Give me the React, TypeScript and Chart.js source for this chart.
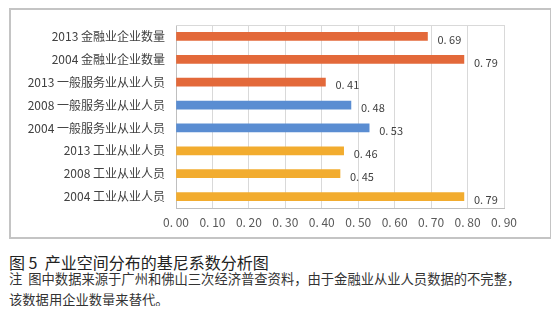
import React, { useEffect, useRef } from "react";
import { Chart, registerables } from "chart.js";

Chart.register(...registerables);

const categories = [
  "2013 金融业企业数量",
  "2004 金融业企业数量",
  "2013 一般服务业从业人员",
  "2008 一般服务业从业人员",
  "2004 一般服务业从业人员",
  "2013 工业从业人员",
  "2008 工业从业人员",
  "2004 工业从业人员",
];
const giniValues = [0.69, 0.79, 0.41, 0.48, 0.53, 0.46, 0.45, 0.79];
const barColors = [
  "#E3693A", "#E3693A", "#E3693A",
  "#5A8DD2", "#5A8DD2",
  "#F2AC2F", "#F2AC2F", "#F2AC2F",
];
const xTickValues = [0, 0.1, 0.2, 0.3, 0.4, 0.5, 0.6, 0.7, 0.8, 0.9];
const xTickLabels = ["0. 00", "0. 10", "0. 20", "0. 30", "0. 40", "0. 50", "0. 60", "0. 70", "0. 80", "0. 90"];

const FONT = '"Noto Sans CJK SC", "Noto Sans", sans-serif';

const fmt = (v: number) => v.toFixed(2).replace(".", ". ");

const labelPlugin = {
  id: "valueLabels",
  afterDatasetsDraw(chart: any) {
    const ctx = chart.ctx;
    const meta = chart.getDatasetMeta(0);
    ctx.save();
    ctx.font = `11px ${FONT}`;
    ctx.fillStyle = "#404040";
    ctx.textAlign = "left";
    ctx.textBaseline = "middle";
    meta.data.forEach((bar: any, i: number) => {
      ctx.fillText(fmt(giniValues[i]), bar.x + 10, bar.y + 3);
    });
    ctx.restore();
  },
};

const topLinePlugin = {
  id: "topLine",
  beforeDatasetsDraw(chart: any) {
    const { ctx, chartArea } = chart;
    ctx.save();
    ctx.strokeStyle = "#d9d9d9";
    ctx.lineWidth = 1;
    ctx.beginPath();
    ctx.moveTo(chartArea.left, chartArea.top + 0.5);
    ctx.lineTo(chartArea.right, chartArea.top + 0.5);
    ctx.stroke();
    ctx.restore();
  },
};

function GiniChart() {
  const ref = useRef<HTMLCanvasElement | null>(null);
  useEffect(() => {
    if (!ref.current) return;
    Chart.defaults.font.family = FONT;
    const chart = new Chart(ref.current, {
      type: "bar",
      data: {
        labels: categories,
        datasets: [
          {
            data: giniValues,
            backgroundColor: barColors,
            barThickness: 8,
          },
        ],
      },
      options: {
        indexAxis: "y",
        animation: false,
        responsive: false,
        maintainAspectRatio: false,
        layout: { padding: { top: 25, right: 55, left: 0, bottom: 0 } },
        plugins: { legend: { display: false }, tooltip: { enabled: false } },
        scales: {
          x: {
            min: 0,
            max: 0.9,
            afterBuildTicks: (scale: any) => {
              scale.ticks = xTickValues.map((v) => ({ value: v }));
            },
            afterFit: (scale: any) => {
              scale.height = 32;
            },
            ticks: {
              callback: (_v: any, i: number) => xTickLabels[i],
              color: "#595959",
              font: { size: 12, family: FONT },
              padding: 7,
              maxRotation: 0,
              autoSkip: false,
            },
            grid: { color: "#d9d9d9", drawTicks: false },
            border: { color: "#bfbfbf" },
          },
          y: {
            afterFit: (scale: any) => {
              scale.width = 176;
            },
            ticks: {
              color: "#404040",
              font: { size: 12, family: FONT },
              padding: 11,
              autoSkip: false,
            },
            grid: { display: false, drawTicks: false },
            border: { display: true, color: "#bfbfbf" },
          },
        },
      },
      plugins: [labelPlugin, topLinePlugin],
    } as any);
    return () => chart.destroy();
  }, []);
  return (
    <canvas
      ref={ref}
      width={559}
      height={240}
      style={{ position: "absolute", left: 0, top: 0, width: 559, height: 240 }}
    />
  );
}

export default function App() {
  return (
    <div style={{ position: "relative", margin: -8, width: 559, height: 314, background: "#fff", fontFamily: FONT }}>
      <div
        style={{
          position: "absolute",
          left: 9,
          top: 8,
          width: 543,
          height: 231,
          boxSizing: "border-box",
          border: "2px solid #c4c4c4",
        }}
      />
      <GiniChart />
      <div
        style={{
          position: "absolute",
          left: 9,
          top: 252,
          fontSize: 16,
          lineHeight: "20px",
          color: "#222",
          whiteSpace: "pre",
        }}
      >
        {"图 5  产业空间分布的基尼系数分析图"}
      </div>
      <div
        style={{
          position: "absolute",
          left: 9,
          top: 268,
          fontSize: 13.3,
          lineHeight: "21px",
          color: "#333",
          whiteSpace: "pre",
        }}
      >
        {"注  图中数据来源于广州和佛山三次经济普查资料，由于金融业从业人员数据的不完整，"}
        <br />
        {"该数据用企业数量来替代。"}
      </div>
    </div>
  );
}
